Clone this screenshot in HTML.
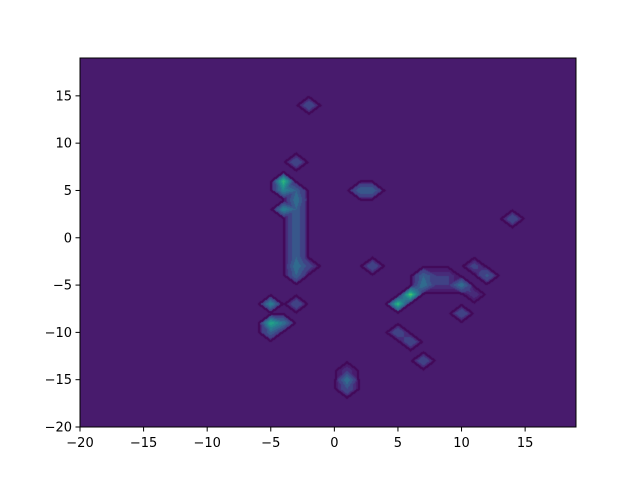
<!DOCTYPE html>
<html><head><meta charset="utf-8"><style>
body{margin:0;background:#fff;width:640px;height:480px;overflow:hidden;font-family:"DejaVu Sans","Liberation Sans",sans-serif}
#c{position:absolute;left:80px;top:58px}
svg{position:absolute;left:0;top:0}
</style></head><body>
<canvas id="c" width="496" height="369"></canvas>
<svg id="s" width="640" height="480"></svg>
<script>
const xs=[-2,-3,-4,-4,-4,-3,-3,-3,-3,-3,-3,-3,-3,-3,-3,-2,-3,-5,-5,-4,-5,1,1,1,2,3,3,14,5,6,7,7,8,9,10,10,12,11,5,6,7,8,9,11];
const ys=[14,8,6,5,3,5,4,3,2,1,0,-1,-2,-3,-4,-3,-7,-7,-9,-9,-10,-14,-15,-16,5,5,-3,2,-7,-6,-5,-4,-4,-4,-5,-8,-4,-3,-10,-11,-13,-5,-5,-6];
const vs=[2,2,8,5,5,3,4,3,3,3,3,3,3,4,3,1.5,2,5,7,4,3,1,4,2,3,3,2,2,8,9,4,3,1,1,4,2,2.5,1.5,2,2,2,1,1,1];
const xTicks=[-20,-15,-10,-5,0,5,10,15];
const yTicks=[-20,-15,-10,-5,0,5,10,15];
const X0=-20,X1=19,Y0=-20,Y1=19,W=496,H=369;
const sx=v=>80+(v-X0)/(X1-X0)*W, sy=v=>427-(v-Y0)/(Y1-Y0)*H;
const N=X1-X0+1, Z=[];
for(let i=0;i<N;i++){Z.push(new Array(N).fill(0));}
for(let k=0;k<xs.length;k++){Z[xs[k]-X0][ys[k]-Y0]+=vs[k];}
const g=(a,b)=>(a>=0&&a<N&&b>=0&&b<N)?Z[a][b]:0;
function f(x,y){const i=Math.floor(x-X0),j=Math.floor(y-Y0);const tx=x-X0-i,ty=y-Y0-j;
 const a=g(i,j),b=g(i+1,j),c=g(i,j+1),d=g(i+1,j+1);
 if(b+c<=a+d && !(a>0&&d>0&&b===0&&c===0)){
  if(tx+ty<=1) return a+(b-a)*tx+(c-a)*ty;
  return d+(c-d)*(1-tx)+(b-d)*(1-ty);
 } else if(b+c>a+d && !(b>0&&c>0&&a===0&&d===0)) {
  if(tx>=ty) return a+(b-a)*tx+(d-b)*ty;
  return a+(c-a)*ty+(d-c)*tx;
 } else {
  const m=(a+b+c+d)/4;
  const u=tx-0.5,w=ty-0.5;
  if(w<=-Math.abs(u)){const s=-w*2;const p=tx;return m+( (a+(b-a)*p) - m)*s;}
  if(w>=Math.abs(u)){const s=w*2;const p=tx;return m+((c+(d-c)*p)-m)*s;}
  if(u<0){const s=-u*2;const p=ty;return m+((a+(c-a)*p)-m)*s;}
  {const s=u*2;const p=ty;return m+((b+(d-b)*p)-m)*s;}
 }}
const vir=[[68,1,84],[72,40,120],[62,74,137],[49,104,142],[38,130,142],[31,158,137],[53,183,121],[109,205,89],[180,222,44],[253,231,37]];
function cm(t){t=Math.max(0,Math.min(1,t))*9;const i=Math.min(8,Math.floor(t)),r=t-i;return vir[i].map((c,k)=>Math.round(c+(vir[i+1][k]-c)*r));}
const maxV=10,nl=10,step=maxV/nl;
const ctx=document.getElementById('c').getContext('2d');const img=ctx.createImageData(W,H);
const F=[];
for(let py=0;py<H;py++){for(let px=0;px<W;px++){const x=X0+(px+0.5)/W*(X1-X0),y=Y1-(py+0.5)/H*(Y1-Y0);F.push(f(x,y));}}
const th=0.12;
for(let py=0;py<H;py++)for(let px=0;px<W;px++){const v=F[py*W+px];const b=Math.floor(v/step);let c;
 if(v<0.6){c=[72,27,109];}else{c=cm(0.12+Math.min(b,nl)/nl*0.75);}
 let edge=false;
 if(v>=th){for(const [dx,dy] of [[1,0],[-1,0],[0,1],[0,-1],[1,1],[-1,-1],[1,-1],[-1,1]]){const qx=px+dx,qy=py+dy;if(qx>=0&&qx<W&&qy>=0&&qy<H&&F[qy*W+qx]<th){edge=true;break;}}}
 if(!edge&&v<th){for(const [dx,dy] of [[1,0],[-1,0],[0,1],[0,-1]]){const qx=px+dx,qy=py+dy;if(qx>=0&&qx<W&&qy>=0&&qy<H&&F[qy*W+qx]>=th){edge=true;break;}}}
 if(edge)c=[66,8,88];
 const o=(py*W+px)*4;img.data[o]=c[0];img.data[o+1]=c[1];img.data[o+2]=c[2];img.data[o+3]=255;}
ctx.putImageData(img,0,0);
const s=document.getElementById('s');const NS='http://www.w3.org/2000/svg';
function el(t,a,txt){const e=document.createElementNS(NS,t);for(const k in a)e.setAttribute(k,a[k]);if(txt!==undefined)e.textContent=txt;s.appendChild(e);return e;}
const fr=el('rect',{x:80,y:58,width:496,height:369,fill:'none',stroke:'#000','stroke-width':1});


xTicks.forEach(v=>{const x=sx(v);
 const l=el('line',{x1:x,x2:x,y1:427,y2:431.5,stroke:'#000'});
 
 
 const t=el('text',{x:x,y:447,'font-size':'13px','text-anchor':'middle',fill:'#000'},v<0?'\u2212'+(-v):String(v));
 
 });
yTicks.forEach(v=>{const y=sy(v);
 const l=el('line',{x1:75.5,x2:80,y1:y,y2:y,stroke:'#000'});
 
 
 const t=el('text',{x:72,y:y+4.5,'font-size':'13px','text-anchor':'end',fill:'#000'},v<0?'\u2212'+(-v):String(v));
 
 });
</script></body></html>
